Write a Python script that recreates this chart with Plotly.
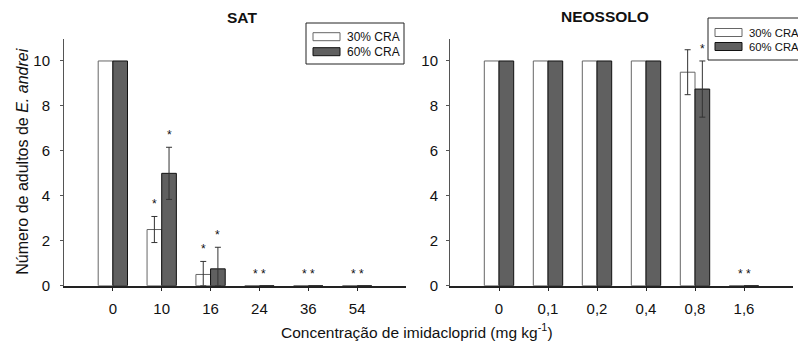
import plotly.graph_objects as go

W, H = 798, 341

# ---------------- data ----------------
sat_cats = ["0", "10", "16", "24", "36", "54"]
sat_30 = [10, 2.5, 0.5, 0, 0, 0]
sat_60 = [10, 5, 0.75, 0, 0, 0]
sat_30_err = [None, 0.58, 0.58, None, None, None]
sat_60_err = [None, 1.16, 0.96, None, None, None]
sat_30_sig = [False, True, True, True, True, True]
sat_60_sig = [False, True, True, True, True, True]

neo_cats = ["0", "0,1", "0,2", "0,4", "0,8", "1,6"]
neo_30 = [10, 10, 10, 10, 9.5, 0]
neo_60 = [10, 10, 10, 10, 8.75, 0]
neo_30_err = [None, None, None, None, 1.0, None]
neo_60_err = [None, None, None, None, 1.25, None]
neo_30_sig = [False, False, False, False, False, True]
neo_60_sig = [False, False, False, False, True, True]

series_names = ["30% CRA", "60% CRA"]
y_ticks = [0, 2, 4, 6, 8, 10]

# ---------------- style ----------------
FONT = "Liberation Sans, Arial, sans-serif"
FILL = ["#ffffff", "#606060"]
EDGE = ["#666666", "#111111"]
ERRC = "#333333"
OFF = 0.15  # half of bar width in category units


def px(x):
    return x / W


def py(y):
    return 1 - y / H


fig = go.Figure()
annotations = []
shapes = []

panels = [
    ("x", "y", sat_cats, [sat_30, sat_60], [sat_30_err, sat_60_err], [sat_30_sig, sat_60_sig]),
    ("x2", "y2", neo_cats, [neo_30, neo_60], [neo_30_err, neo_60_err], [neo_30_sig, neo_60_sig]),
]

for p, (xa, ya, cats, vals, errs, sigs) in enumerate(panels):
    idx = list(range(len(cats)))
    for s in range(2):
        fig.add_trace(go.Bar(
            x=idx, y=vals[s], name=series_names[s], xaxis=xa, yaxis=ya,
            offsetgroup=str(s), marker=dict(color=FILL[s], line=dict(color=EDGE[s], width=1)),
            showlegend=False, hoverinfo="skip",
        ))
    for s in range(2):
        sign = -1 if s == 0 else 1
        ex, ey, ep, em = [], [], [], []
        for i in idx:
            if errs[s][i] is not None:
                ex.append(i + sign * OFF)
                ey.append(vals[s][i])
                ep.append(errs[s][i])
                em.append(min(errs[s][i], vals[s][i]))
        if ex:
            fig.add_trace(go.Scatter(
                x=ex, y=ey, mode="markers", marker=dict(size=1, color="rgba(0,0,0,0)"),
                xaxis=xa, yaxis=ya, showlegend=False, hoverinfo="skip",
                error_y=dict(type="data", array=ep, arrayminus=em, symmetric=False,
                             color=ERRC, thickness=1, width=3),
            ))
    # significance asterisks
    for i in idx:
        if vals[0][i] == 0 and vals[1][i] == 0 and sigs[0][i] and sigs[1][i]:
            annotations.append(dict(x=i, y=0, xref=xa, yref=ya, text="* *", showarrow=False,
                                    xanchor="center", yanchor="bottom", yshift=3,
                                    font=dict(size=12, color="#111", family=FONT)))
            continue
        for s in range(2):
            if sigs[s][i]:
                sign = -1 if s == 0 else 1
                top = vals[s][i] + (errs[s][i] or 0)
                annotations.append(dict(x=i + sign * OFF, y=top, xref=xa, yref=ya, text="*",
                                        showarrow=False, xanchor="center", yanchor="bottom", yshift=3,
                                        font=dict(size=12, color="#111", family=FONT)))

axis_common_x = dict(range=[-1, 6], tickmode="array", showgrid=False, zeroline=False,
                     showline=True, linecolor="#222", linewidth=1.5, ticks="outside", ticklen=4,
                     tickcolor="#222", automargin=False, ticklabelstandoff=5,
                     tickfont=dict(size=15, color="#111", family=FONT))
axis_common_y = dict(range=[0, 11], tickvals=y_ticks, showgrid=False, zeroline=False,
                     showline=True, linecolor="#555", linewidth=1, ticks="outside", ticklen=3,
                     tickcolor="#555", automargin=False,
                     tickfont=dict(size=15, color="#111", family=FONT))

ydom = [py(285.7), py(38.5)]
fig.update_layout(
    width=W, height=H, margin=dict(l=0, r=0, t=0, b=0),
    paper_bgcolor="white", plot_bgcolor="white",
    barmode="group", bargap=0.4, bargroupgap=0,
    font=dict(family=FONT, color="#111"),
    xaxis=dict(domain=[px(64), px(406)], anchor="y", tickvals=list(range(6)), ticktext=sat_cats,
               **axis_common_x),
    yaxis=dict(domain=ydom, anchor="x", ticklabelstandoff=7, **axis_common_y),
    xaxis2=dict(domain=[px(450), px(793)], anchor="y2", tickvals=list(range(6)), ticktext=neo_cats,
                **axis_common_x),
    yaxis2=dict(domain=ydom, anchor="x2", ticklabelstandoff=5, **axis_common_y),
)

# titles
annotations.append(dict(x=px(242), y=py(18), xref="paper", yref="paper", text="<b>SAT</b>",
                        xanchor="center", yanchor="middle", showarrow=False,
                        font=dict(size=15.5, family=FONT, color="#111")))
annotations.append(dict(x=px(605), y=py(17), xref="paper", yref="paper", text="<b>NEOSSOLO</b>",
                        xanchor="center", yanchor="middle", showarrow=False,
                        font=dict(size=15.5, family=FONT, color="#111")))
annotations.append(dict(x=px(21.7), y=py(162), xref="paper", yref="paper", textangle=-90,
                        xanchor="center", yanchor="middle",
                        text="Número de adultos de <i>E. andrei</i>", showarrow=False,
                        font=dict(size=16, family=FONT, color="#111")))
annotations.append(dict(x=px(417), y=py(331), xref="paper", yref="paper",
                        xanchor="center", yanchor="middle",
                        text="Concentração de imidacloprid (mg kg<sup>-1</sup>)", showarrow=False,
                        font=dict(size=15.5, family=FONT, color="#111")))

# legends (box, swatches, labels)
legends = [
    dict(box=(306, 23, 404, 64), sym_x=(313, 340), rows=[36.7, 51.7], text_x=345, fs=12),
    dict(box=(708, 18, 830, 60), sym_x=(715, 742), rows=[32.5, 46.5], text_x=747, fs=11.3),
]
for lg in legends:
    x0, y0, x1, y1 = lg["box"]
    shapes.append(dict(type="rect", xref="paper", yref="paper", x0=px(x0), x1=px(x1), y0=py(y1), y1=py(y0),
                       line=dict(color="#222", width=1), fillcolor="white", layer="above"))
    for s, ry in enumerate(lg["rows"]):
        shapes.append(dict(type="rect", xref="paper", yref="paper", x0=px(lg["sym_x"][0]), x1=px(lg["sym_x"][1]),
                           y0=py(ry + 4), y1=py(ry - 4), line=dict(color=EDGE[s], width=1),
                           fillcolor=FILL[s], layer="above"))
        annotations.append(dict(x=px(lg["text_x"]), y=py(ry), xref="paper", yref="paper",
                                text=series_names[s], showarrow=False, xanchor="left", yanchor="middle",
                                font=dict(size=lg["fs"], family=FONT, color="#111")))

fig.update_layout(annotations=annotations, shapes=shapes)
fig.write_html("out.html", config={"displayModeBar": False},
               post_script="document.body.style.margin='0';document.body.style.overflow='hidden';")
